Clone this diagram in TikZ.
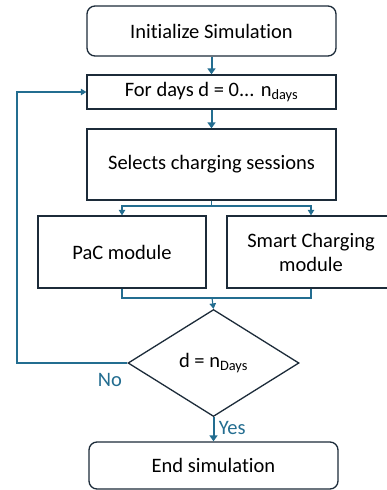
\documentclass[tikz,border=0pt]{standalone}
\usepackage{fontspec}
\setmainfont[Ligatures={NoCommon}]{Carlito}
\usetikzlibrary{shapes.geometric,arrows.meta}
\definecolor{flow}{HTML}{236D90}
\definecolor{edge}{HTML}{1C2B39}
\begin{document}
\begin{tikzpicture}[x=1pt,y=-1pt,
  box/.style={draw=edge,line width=1.3pt,fill=white,inner sep=0pt,align=center,font=\fontsize{20.5}{24}\selectfont},
  roundbox/.style={box,rounded corners=8pt},
  decision/.style={draw=edge,line width=1.3pt,diamond,aspect=1.6,inner sep=0pt,font=\fontsize{20.5}{24}\selectfont},
  link/.style={draw=flow,line width=1.1pt},
  arrow/.style={link,-{Triangle[length=5.5pt,width=6.5pt]}},
  mainarrow/.style={draw=flow,line width=2pt,-{Triangle[length=6pt,width=8pt]}},
  tag/.style={text=flow,font=\fontsize{20.5}{24}\selectfont}]
\useasboundingbox (0,0) rectangle (387,490);
\clip (0,0) rectangle (387,490);

\node[roundbox,minimum width=249pt,minimum height=50pt] (init) at (211.5,31) {Initialize Simulation};
\node[box,minimum width=249pt,minimum height=34pt] (days) at (211.5,92) {For days d = 0... n\textsubscript{days}};
\node[box,minimum width=249pt,minimum height=71pt] (sel) at (211.5,164.5) {Selects charging sessions};
\node[box,minimum width=168pt,minimum height=72pt] (pac) at (122,252) {PaC module};
\node[box,minimum width=168pt,minimum height=72pt] (smart) at (311,252) {Smart Charging\\module};
\node[decision,minimum width=171pt,minimum height=107pt] (dec) at (213.5,363) {d = n\textsubscript{Days}};
\node[roundbox,minimum width=249pt,minimum height=47pt] (fin) at (213.5,465.5) {End simulation};

\coordinate (split) at (211.5,206);
\coordinate (join) at (212,298);
\coordinate (back) at (17,363);

\draw[mainarrow] (init) -- (days);
\draw[mainarrow] (days) -- (sel);
\draw[link] (sel.south) -- (split);
\draw[arrow] (split) -| (pac.north);
\draw[arrow] (split) -| (smart.north);
\draw[link] (pac.south) |- (join) -| (smart.south);
\draw[arrow] (join) -- (dec.north);
\draw[mainarrow] (dec.south) -- node[tag,right,pos=0.45,xshift=1pt] {Yes} (fin.north);
\draw[arrow] (dec.west) -- (back) |- (days.west);
\node[tag] (no) at (110,380) {No};
\end{tikzpicture}
\end{document}
